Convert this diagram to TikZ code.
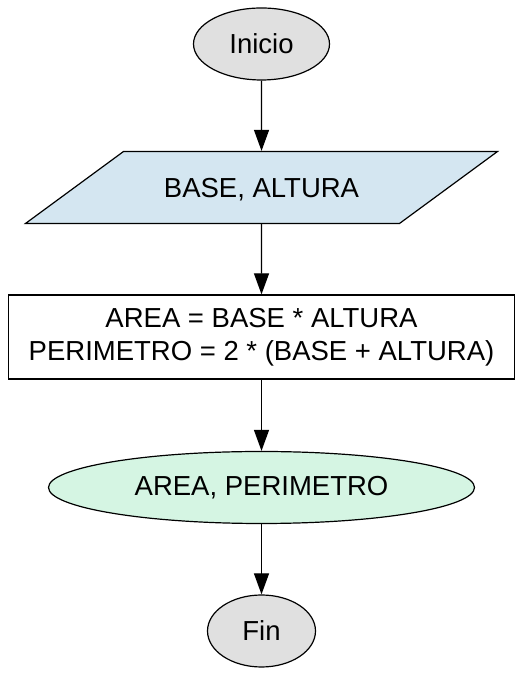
\documentclass[tikz,border=0pt]{standalone}
\usepackage{fontspec}
\setmainfont{Liberation Sans}
\usetikzlibrary{shapes.geometric, positioning, arrows.meta}

\definecolor{grisfin}{HTML}{E0E0E0}
\definecolor{azuldato}{HTML}{D4E6F1}
\definecolor{verdesal}{HTML}{D5F5E3}

\begin{document}
\begin{tikzpicture}
	[x=1pt, y=1pt, on grid, node distance=146pt, line width=1.2pt,
	 font=\fontsize{27.5}{33}\selectfont,
	 terminal/.style={ellipse, draw, fill=grisfin, minimum height=72pt, inner sep=0pt},
	 entrada/.style={trapezium, draw, fill=azuldato, trapezium left angle=36.3, trapezium right angle=143.7, trapezium stretches body, minimum width=472pt, text height=20pt, text depth=0pt, inner xsep=0pt, inner ysep=26pt},
	 proceso/.style={rectangle, draw, minimum width=506pt, minimum height=84pt, align=center, inner sep=0pt},
	 salida/.style={ellipse, draw, fill=verdesal, minimum width=426pt, minimum height=72pt, inner sep=0pt},
	 flecha/.style={-{Triangle[length=21pt, width=15pt]}}]
   \useasboundingbox (0,0) rectangle (523,676);
   \node[terminal, minimum width=136pt] (inicio) at (261.5,632) {Inicio};
   \node[entrada] (datos) [below=143.5pt of inicio] {BASE, ALTURA};
   \node[proceso] (calculo) [below=149.5pt of datos] {AREA = BASE * ALTURA\\PERIMETRO = 2 * (BASE + ALTURA)};
   \node[salida] (resultado) [below=150.5pt of calculo] {AREA, PERIMETRO};
   \node[terminal, minimum width=108pt] (fin) [below=143.5pt of resultado] {Fin};
   \path[flecha]
    (inicio) edge (datos)
    (datos) edge (calculo)
    (calculo) edge (resultado)
    (resultado) edge (fin);
\end{tikzpicture}
\end{document}
